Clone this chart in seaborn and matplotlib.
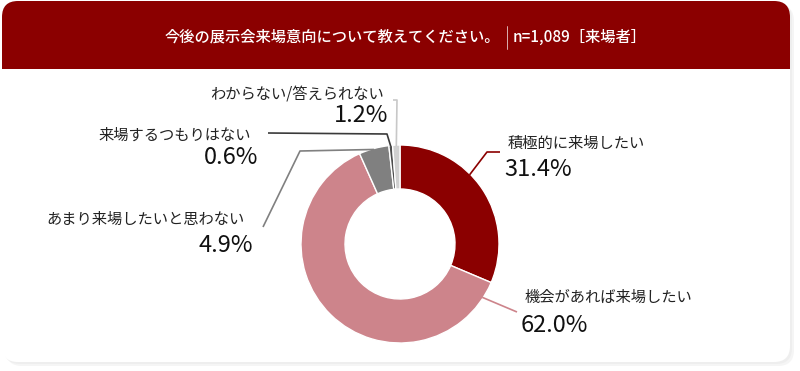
import numpy as np
import matplotlib
matplotlib.use("Agg")
import matplotlib.pyplot as plt
from matplotlib.patches import FancyBboxPatch, Rectangle
import seaborn as sns

# data
labels = ['積極的に来場したい', '機会があれば来場したい', 'あまり来場したいと思わない',
          '来場するつもりはない', 'わからない/答えられない']
values = [31.4, 62.0, 4.9, 0.6, 1.2]
colors = ['#8b0000', '#cd848b', '#808080', '#4d4d4d', '#d0d0d0']
line_colors = ['#8b0000', '#cd848b', '#808080', '#3a3a3a', '#c8c8c8']
title = '今後の展示会来場意向について教えてください。'
subtitle = 'n=1,089［来場者］'

sns.set_theme(style='white')
plt.rcParams['font.family'] = ['Noto Sans CJK JP', 'DejaVu Sans']

W, H = 800, 371
fig = plt.figure(figsize=(W / 100, H / 100), dpi=100)
fig.patch.set_facecolor('white')

# background card, in pixel coords
bg = fig.add_axes([0, 0, 1, 1], zorder=0)
bg.set_xlim(0, W)
bg.set_ylim(H, 0)
bg.axis('off')
for off, col in [(4, '#f5f5f5'), (2, '#eeeeee')]:
    bg.add_patch(FancyBboxPatch((2 + off, 1 + off), 788, 361, boxstyle='round,pad=0,rounding_size=16',
                                fc=col, ec='none'))
bg.add_patch(FancyBboxPatch((2, 1), 788, 361, boxstyle='round,pad=0,rounding_size=16',
                            fc='white', ec='none'))
bg.add_patch(FancyBboxPatch((2, 1), 788, 100, boxstyle='round,pad=0,rounding_size=16',
                            fc='#8b0000', ec='none'))
bg.add_patch(Rectangle((2, 69), 788, 40, fc='white', ec='none'))

bg.text(500, 37, title, color='white', fontsize=11, fontweight='medium', ha='right', va='center')
bg.plot([507, 507], [26, 49], color='white', lw=0.6, alpha=0.8)
bg.text(513, 37, subtitle, color='white', fontsize=11, fontweight='medium', ha='left', va='center')

# donut
cx, cy, R = 400, 244, 99
pie_ax = fig.add_axes([(cx - 110) / W, (H - cy - 110) / H, 220 / W, 220 / H], zorder=1)
wedges, _ = pie_ax.pie(values, colors=colors, startangle=90, counterclock=False,
                       radius=R / 100, wedgeprops=dict(width=0.44, edgecolor='white', linewidth=1))
pie_ax.set_xlim(-1.1, 1.1)
pie_ax.set_ylim(-1.1, 1.1)
pie_ax.set_aspect('equal')
pie_ax.axis('off')

# where along each wedge the leader line starts, elbows / ends (pixels), label anchors
anchor_frac = [0.4, 0.045, 0.5, 0.5, 0.5]
elbows = [[(487, 152), (500, 152)],
          [(517, 312)],
          [(300, 151), (263, 227)],
          [(387, 134), (268, 133)],
          [(397, 100), (393, 100)]]
label_pos = [(508, 143, 'left'), (525, 297, 'left'), (245, 219, 'right'),
             (251, 135, 'right'), (384, 95, 'right')]
pct_pos = [(504, 170, 'left'), (521, 325, 'left'), (253, 245, 'right'),
           (258, 158, 'right'), (388, 116, 'right')]

ov = fig.add_axes([0, 0, 1, 1], zorder=2)
ov.set_xlim(0, W)
ov.set_ylim(H, 0)
ov.axis('off')
for i, w in enumerate(wedges):
    # counterclock=False -> wedge runs from theta2 down to theta1
    a = np.deg2rad(w.theta2 - anchor_frac[i] * (w.theta2 - w.theta1))
    sx, sy = cx + (R - 1) * np.cos(a), cy - (R - 1) * np.sin(a)
    pts = [(sx, sy)] + elbows[i]
    ov.plot([p[0] for p in pts], [p[1] for p in pts], color=line_colors[i], lw=1.2,
            solid_capstyle='butt')
    lx, ly, ha = label_pos[i]
    ov.text(lx, ly, labels[i], fontsize=11, color='#222222', ha=ha, va='center')
    px, py, ha = pct_pos[i]
    ov.text(px, py, f'{values[i]:.1f}%', fontsize=17, color='#111111', ha=ha, va='center')

fig.savefig('out.png', dpi=100, facecolor=fig.get_facecolor())
